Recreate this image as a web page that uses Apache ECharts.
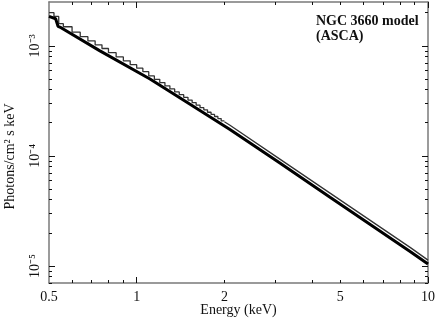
<!DOCTYPE html>
<html lang="en">
<head>
<meta charset="UTF-8">
<title>NGC 3660 model (ASCA)</title>
<script src="https://cdn.jsdelivr.net/npm/echarts@6/dist/echarts.min.js"></script>
<style>html,body{margin:0;padding:0;background:#fff;}</style>
</head>
<body>
<div id="main" style="width:436px;height:320px;"></div>
<script>
// model curve (thick line)
var modelEnergy = [0.5, 0.527, 0.537, 0.55, 0.748, 1.111, 1.52, 2.09, 3.11, 4.61, 8.73, 10];
var modelFlux = [1.85e-3, 1.76e-3, 1.50e-3, 1.46e-3, 9.0e-4, 5.0e-4, 2.96e-4, 1.74e-4, 8.55e-5, 4.21e-5, 1.34e-5, 1.04e-5];

// binned spectrum (thin step line), low energy bins
var binEdges = [0.50, 0.52, 0.54, 0.56, 0.60, 0.64, 0.68, 0.72, 0.76, 0.80, 0.85, 0.90, 0.95, 1.00,
    1.05, 1.10, 1.15, 1.20, 1.25, 1.30, 1.35, 1.40, 1.45, 1.50, 1.55, 1.60, 1.65, 1.70, 1.75,
    1.80, 1.85, 1.90, 1.95, 2.00];
var binFlux = [2.0e-3, 1.85e-3, 1.59e-3, 1.49e-3, 1.33e-3, 1.21e-3, 1.11e-3, 1.02e-3, 9.45e-4,
    8.66e-4, 7.93e-4, 7.3e-4, 6.74e-4, 6.26e-4, 5.82e-4, 5.33e-4, 4.96e-4, 4.63e-4, 4.33e-4,
    4.06e-4, 3.81e-4, 3.60e-4, 3.40e-4, 3.21e-4, 3.05e-4, 2.89e-4, 2.74e-4, 2.62e-4, 2.49e-4,
    2.38e-4, 2.28e-4, 2.18e-4, 2.08e-4];
// above 2 keV the bins are too narrow to see, so it is drawn as a line
var tailEnergy = [2.0, 2.09, 3.11, 4.61, 8.73, 10];
var tailFlux = [2.04e-4, 1.90e-4, 9.3e-5, 4.59e-5, 1.46e-5, 1.13e-5];

// ticks and labels
var xLabelTicks = [0.5, 1, 2, 5, 10];
var xMajorTicks = [1, 10];
var xMinorTicks = [0.6, 0.7, 0.8, 0.9, 2, 3, 4, 5, 6, 7, 8, 9];
var yLabelTicks = [1e-5, 1e-4, 1e-3];
var yMinorTicks = [7e-6, 8e-6, 9e-6, 2e-5, 3e-5, 4e-5, 5e-5, 6e-5, 7e-5, 8e-5, 9e-5,
    2e-4, 3e-4, 4e-4, 5e-4, 6e-4, 7e-4, 8e-4, 9e-4, 2e-3];

var FONT = 'Liberation Serif';
var AXIS_GRAY = '#7a7a7a';

function expLabel(v) {
    var sup = {'-': '\u207B', '0': '\u2070', '1': '\u00B9', '2': '\u00B2', '3': '\u00B3',
        '4': '\u2074', '5': '\u2075', '6': '\u2076', '7': '\u2077', '8': '\u2078', '9': '\u2079'};
    var e = String(Math.round(Math.log10(v)));
    return '10' + e.split('').map(function (c) { return sup[c]; }).join('');
}

function makeAxis(dim, pos, ticks, len, opts) {
    var ax = {
        type: 'log',
        logBase: 10,
        position: pos,
        min: dim === 'x' ? 0.5 : 7e-6,
        max: dim === 'x' ? 10 : 2.5e-3,
        axisLine: {show: !!opts.line, lineStyle: {color: AXIS_GRAY, width: 1.5}},
        axisTick: {show: true, inside: true, length: len, customValues: ticks,
            lineStyle: {color: '#111', width: 1}},
        axisLabel: {show: false},
        splitLine: {show: false},
        minorTick: {show: false}
    };
    if (opts.labels) {
        ax.axisLabel = {
            show: true,
            customValues: opts.labels,
            fontFamily: FONT,
            fontSize: 14,
            color: '#111',
            margin: opts.margin,
            rotate: opts.rotate || 0,
            formatter: opts.formatter
        };
    }
    if (opts.name) {
        ax.name = opts.name;
        ax.nameLocation = 'middle';
        ax.nameGap = opts.nameGap;
        ax.nameMoveOverlap = false;
        ax.nameTextStyle = {fontFamily: FONT, fontSize: 14, color: '#111', padding: opts.namePad || 0};
    }
    return ax;
}

var histData = binEdges.slice(0, -1).map(function (e, i) { return [e, binFlux[i]]; });
histData.push([binEdges[binEdges.length - 1], binFlux[binFlux.length - 1]]);

var chart = echarts.init(document.getElementById('main'), null, {renderer: 'canvas'});
chart.setOption({
    animation: false,
    backgroundColor: '#fff',
    title: {
        text: 'NGC 3660 model\n(ASCA)',
        left: 316,
        top: 14,
        padding: 0,
        textStyle: {fontFamily: FONT, fontSize: 14, fontWeight: 'bold', color: '#111', lineHeight: 15}
    },
    grid: {left: 49, right: 8, top: 2, bottom: 37, containLabel: false, outerBoundsMode: 'none'},
    xAxis: [
        makeAxis('x', 'bottom', xMajorTicks, 6, {line: true, labels: xLabelTicks, margin: 7,
            formatter: function (v) { return String(v); },
            name: 'Energy (keV)', nameGap: 20}),
        makeAxis('x', 'bottom', xMinorTicks, 3, {}),
        makeAxis('x', 'top', xMajorTicks, 6, {line: true}),
        makeAxis('x', 'top', xMinorTicks, 3, {})
    ],
    yAxis: [
        makeAxis('y', 'left', yLabelTicks, 6, {line: true, labels: yLabelTicks, margin: 7, rotate: 90,
            formatter: expLabel, name: 'Photons/cm\u00B2 s keV', nameGap: 32, namePad: [0, 28, 0, 0]}),
        makeAxis('y', 'left', yMinorTicks, 3, {}),
        makeAxis('y', 'right', yLabelTicks, 6, {line: true}),
        makeAxis('y', 'right', yMinorTicks, 3, {})
    ],
    series: [
        {
            type: 'line',
            xAxisIndex: 0,
            yAxisIndex: 0,
            data: modelEnergy.map(function (e, i) { return [e, modelFlux[i]]; }),
            showSymbol: false,
            symbol: 'none',
            lineStyle: {color: '#000', width: 3},
            z: 3
        },
        {
            type: 'line',
            xAxisIndex: 0,
            yAxisIndex: 0,
            step: 'end',
            data: histData,
            showSymbol: false,
            symbol: 'none',
            lineStyle: {color: '#333', width: 1.3},
            z: 2
        },
        {
            type: 'line',
            xAxisIndex: 0,
            yAxisIndex: 0,
            data: tailEnergy.map(function (e, i) { return [e, tailFlux[i]]; }),
            showSymbol: false,
            symbol: 'none',
            lineStyle: {color: '#333', width: 1.3},
            z: 2
        }
    ]
});
</script>
</body>
</html>
